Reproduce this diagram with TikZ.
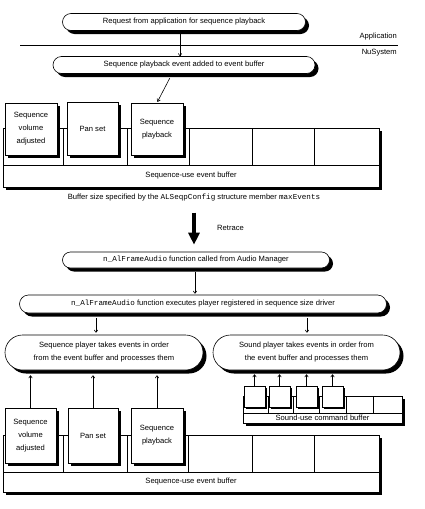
\documentclass[tikz,border=0pt]{standalone}
\usepackage{fontspec}
\setmainfont{Liberation Sans}
\setmonofont{Liberation Mono}
\usepackage{tikz}
\usetikzlibrary{shapes,arrows,positioning,calc,shadows,arrows.meta}

\begin{document}
\begin{tikzpicture}[x=1pt, y=-1pt,
    every node/.style={font=\fontsize{7.6}{13}\selectfont, inner sep=0pt},
    blackshadow/.style={drop shadow={shadow xshift=#1, shadow yshift=-#1, opacity=1, fill=black}},
    stage/.style={draw, rounded rectangle, fill=white, line width=0.6pt, align=center, blackshadow=3.5pt},
    card/.style={draw, rectangle, fill=white, line width=0.6pt, align=center, blackshadow=3pt},
    minicard/.style={draw, rectangle, fill=white, line width=0.6pt, minimum size=21pt, blackshadow=2pt},
    bufbox/.style={draw, rectangle, fill=white, line width=0.6pt, blackshadow=3pt},
    flow/.style={-{To[length=3pt,width=4pt]}, line width=0.6pt},
    bigflow/.style={-{Triangle[length=12pt,width=11pt]}, line width=4pt}]
    \useasboundingbox (0,0) rectangle (425,509);

    % application / nusystem
    \node[stage, minimum width=243pt, minimum height=17pt] (req) at (184,22) {Request from application for sequence playback};
    \draw[line width=0.6pt] (20,45) -- (398,45);
    \node[anchor=east] (app) at (397,37) {Application};
    \node[anchor=east] (nusys) at (397,53) {NuSystem};
    \node[stage, minimum width=262pt, minimum height=17pt] (added) at (184,65) {Sequence playback event added to event buffer};

    % event buffer before retrace
    \node[bufbox, minimum width=376pt, minimum height=59pt] (buf1) at (191,157.5) {};
    \draw[line width=0.6pt] (3,165) -- (379,165);
    \foreach \x in {63,127,189,252,314}
        \draw[line width=0.6pt] (\x,128) -- (\x,165);
    \node (buf1lbl) at (191,176) {Sequence-use event buffer};
    \node[card, minimum width=52pt, minimum height=52pt] (vol1) at (31,129) {Sequence\\volume\\adjusted};
    \node[card, minimum width=51pt, minimum height=53pt] (pan1) at (92.5,128.5) {Pan set};
    \node[card, minimum width=52pt, minimum height=52pt] (pb1) at (157,129) {Sequence\\playback};
    \node (caption) at (194,198) {Buffer size specified by the \texttt{ALSeqpConfig} structure member \texttt{maxEvents}};

    % retrace
    \node[anchor=west] (retrace) at (217,228) {Retrace};
    \node[stage, minimum width=267pt, minimum height=16pt] (alframe) at (196,260) {\texttt{n\_AlFrameAudio} function called from Audio Manager};
    \node[stage, minimum width=367pt, minimum height=18pt] (exec) at (203,304) {\texttt{n\_AlFrameAudio} function executes player registered in sequence size driver};
    \node[stage, minimum width=198pt, minimum height=35pt] (seqp) at (104,352.5) {Sequence player takes events in order\\from the event buffer and processes them};
    \node[stage, minimum width=187pt, minimum height=35pt] (sndp) at (306.5,352.5) {Sound player takes events in order from\\the event buffer and processes them};

    % sound buffer
    \node[bufbox, minimum width=159pt, minimum height=27pt] (sbuf) at (322.5,409.5) {};
    \draw[line width=0.6pt] (243,413) -- (402,413);
    \foreach \x in {268,293,319,346,373}
        \draw[line width=0.6pt] (\x,396) -- (\x,413);
    \node (sbuflbl) at (322.5,418) {Sound-use command buffer};
    \node[minicard] (s1) at (254.5,396.5) {};
    \node[minicard] (s2) at (279.5,396.5) {};
    \node[minicard] (s3) at (306.5,396.5) {};
    \node[minicard] (s4) at (332.5,396.5) {};

    % event buffer after retrace
    \node[bufbox, minimum width=376pt, minimum height=57pt] (buf2) at (191,463.5) {};
    \draw[line width=0.6pt] (3,472) -- (379,472);
    \foreach \x in {63,127,188,252,314}
        \draw[line width=0.6pt] (\x,435) -- (\x,472);
    \node (buf2lbl) at (191,482) {Sequence-use event buffer};
    \node[card, minimum width=51pt, minimum height=55pt] (vol2) at (30.5,435.5) {Sequence\\volume\\adjusted};
    \node[card, minimum width=50pt, minimum height=55pt] (pan2) at (93,435.5) {Pan set};
    \node[card, minimum width=52pt, minimum height=55pt] (pb2) at (157,435.5) {Sequence\\playback};

    % connectors
    \draw[flow] (req.south -| 180,0) -- (added.north -| 180,0);
    \draw[flow, shorten <=5pt, shorten >=1pt] (added.south -| 172,0) -- (pb1.north);
    \draw[bigflow, shorten <=11pt, shorten >=7pt] (caption.south) -- (caption.south |- alframe.north);
    \draw[flow, shorten <=4pt, shorten >=1pt] (alframe.south -| 195,0) -- (exec.north -| 195,0);
    \draw[flow, shorten <=5pt, shorten >=2pt] (exec.south -| 96,0) -- (seqp.north -| 96,0);
    \draw[flow, shorten <=5pt, shorten >=2pt] (exec.south -| 307,0) -- (sndp.north -| 307,0);
    \foreach \c in {vol2,pan2,pb2}
        \draw[flow, shorten >=5pt] (\c.north) -- (\c.north |- seqp.south);
    \foreach \c in {s1,s2,s3,s4}
        \draw[flow, shorten >=4pt] (\c.north) -- (\c.north |- sndp.south);
\end{tikzpicture}
\end{document}
